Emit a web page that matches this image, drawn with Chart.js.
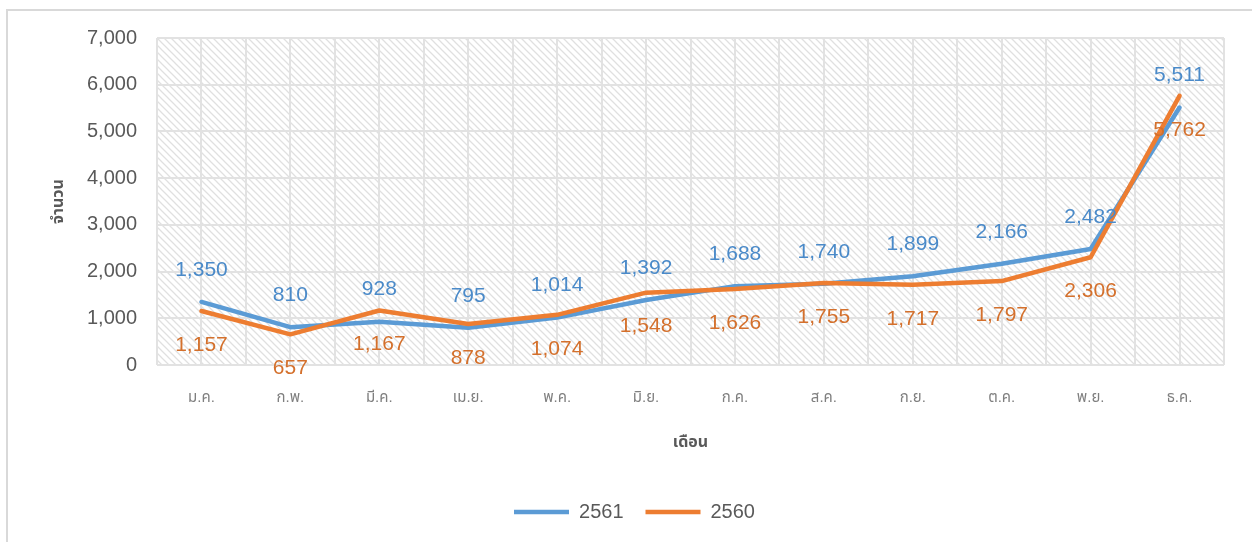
<!DOCTYPE html>
<html>
<head>
<meta charset="utf-8">
<script src="https://cdn.jsdelivr.net/npm/chart.js@4.4.1/dist/chart.umd.min.js"></script>
<style>
  body { margin: 0; background: #fff; }
  canvas { display: block; }
</style>
</head>
<body>
<canvas id="myChart" width="1252" height="542"></canvas>
<script>
var months = ['ม.ค.', 'ก.พ.', 'มี.ค.', 'เม.ย.', 'พ.ค.', 'มิ.ย.', 'ก.ค.', 'ส.ค.', 'ก.ย.', 'ต.ค.', 'พ.ย.', 'ธ.ค.'];
var y2561 = [1350, 810, 928, 795, 1014, 1392, 1688, 1740, 1899, 2166, 2482, 5511];
var y2560 = [1157, 657, 1167, 878, 1074, 1548, 1626, 1755, 1717, 1797, 2306, 5762];
var seriesNames = ['2561', '2560'];

var FONT = "'Liberation Sans', 'Noto Sans', 'Noto Sans Thai', sans-serif";
var gridColor = '#e2e2e2';

// diagonal hatch used as plot background
function makeHatch() {
    var c = document.createElement('canvas');
    c.width = 7; c.height = 7;
    var g = c.getContext('2d');
    g.fillStyle = '#fff';
    g.fillRect(0, 0, 7, 7);
    g.strokeStyle = '#e0e0e0';
    g.lineWidth = 1.3;
    g.beginPath();
    g.moveTo(-2, -2); g.lineTo(9, 9);
    g.moveTo(-9, -2); g.lineTo(2, 9);
    g.moveTo(5, -2); g.lineTo(16, 9);
    g.stroke();
    return c;
}
var hatch = makeHatch();

var backgroundPlugin = {
    id: 'bg',
    beforeDraw: function(chart) {
        var ctx = chart.ctx, a = chart.chartArea;
        ctx.save();
        ctx.fillStyle = '#fff';
        ctx.fillRect(0, 0, chart.width, chart.height);
        ctx.strokeStyle = '#d9d9d9';
        ctx.lineWidth = 2;
        ctx.strokeRect(7, 10, chart.width + 10, chart.height + 10);
        ctx.fillStyle = ctx.createPattern(hatch, 'repeat');
        ctx.fillRect(a.left, a.top, a.right - a.left, a.bottom - a.top);
        ctx.restore();
    }
};

var labelColors = ['#4a8ac9', '#d4702c'];
var labelOffsets = [-32, 34];
var valueLabels = {
    id: 'valueLabels',
    afterDatasetsDraw: function(chart) {
        var ctx = chart.ctx;
        ctx.save();
        ctx.font = '21px ' + FONT;
        ctx.textAlign = 'center';
        ctx.textBaseline = 'middle';
        chart.data.datasets.forEach(function(ds, i) {
            var meta = chart.getDatasetMeta(i);
            meta.data.forEach(function(pt, j) {
                ctx.fillStyle = labelColors[i];
                ctx.fillText(ds.data[j].toLocaleString('en-US'), pt.x, pt.y + labelOffsets[i]);
            });
        });
        ctx.restore();
    }
};

var ctx = document.getElementById('myChart');
var myChart = new Chart(ctx, {
    type: 'line',
    data: {
        labels: months,
        datasets: [
            {
                label: seriesNames[0],
                data: y2561,
                borderColor: '#5b9bd5',
                backgroundColor: '#5b9bd5',
                borderWidth: 4.5,
                borderCapStyle: 'round',
                borderJoinStyle: 'round',
                pointRadius: 0,
                order: 1
            },
            {
                label: seriesNames[1],
                data: y2560,
                borderColor: '#ed7d31',
                backgroundColor: '#ed7d31',
                borderWidth: 4.5,
                borderCapStyle: 'round',
                borderJoinStyle: 'round',
                pointRadius: 0,
                order: 0
            }
        ]
    },
    options: {
        responsive: false,
        animation: false,
        devicePixelRatio: 1,
        locale: 'en-US',
        layout: { padding: { top: 38, right: 28, left: 45, bottom: 10 } },
        plugins: {
            tooltip: { enabled: false },
            legend: {
                position: 'bottom',
                labels: {
                    usePointStyle: true,
                    pointStyle: 'line',
                    pointStyleWidth: 55,
                    color: '#595959',
                    font: { family: FONT, size: 20 },
                    padding: 22,
                    sort: function(a, b) { return a.datasetIndex - b.datasetIndex; }
                }
            }
        },
        scales: {
            x: {
                type: 'category',
                offset: true,
                grid: { offset: false, color: gridColor, lineWidth: 2, drawTicks: false },
                border: { display: false },
                ticks: { color: '#7f7f7f', font: { family: FONT, size: 15 }, padding: 24 },
                title: {
                    display: true,
                    text: 'เดือน',
                    color: '#595959',
                    font: { family: FONT, size: 16, weight: 'bold' },
                    padding: { top: 18, bottom: 28 }
                },
                afterFit: function(s) {
                    var lh = s.chart.legend ? s.chart.legend.height : 0;
                    s.height = 542 - 365 - lh - 10;
                }
            },
            x2: {
                type: 'category',
                labels: months,
                offset: true,
                position: 'bottom',
                grid: { offset: true, color: gridColor, lineWidth: 2, drawTicks: false },
                border: { display: false },
                ticks: { display: false },
                afterFit: function(s) { s.height = 0; }
            },
            y: {
                min: 0,
                max: 7000,
                ticks: {
                    stepSize: 1000,
                    color: '#595959',
                    font: { family: FONT, size: 20 },
                    padding: 20
                },
                grid: { color: gridColor, lineWidth: 2, drawTicks: false },
                border: { display: false },
                title: {
                    display: true,
                    text: 'จำนวน',
                    color: '#595959',
                    font: { family: FONT, size: 16, weight: 'bold' },
                    padding: { top: 4, bottom: 4 }
                },
                afterFit: function(s) { s.width = 157 - 45; }
            }
        }
    },
    plugins: [backgroundPlugin, valueLabels]
});
</script>
</body>
</html>
